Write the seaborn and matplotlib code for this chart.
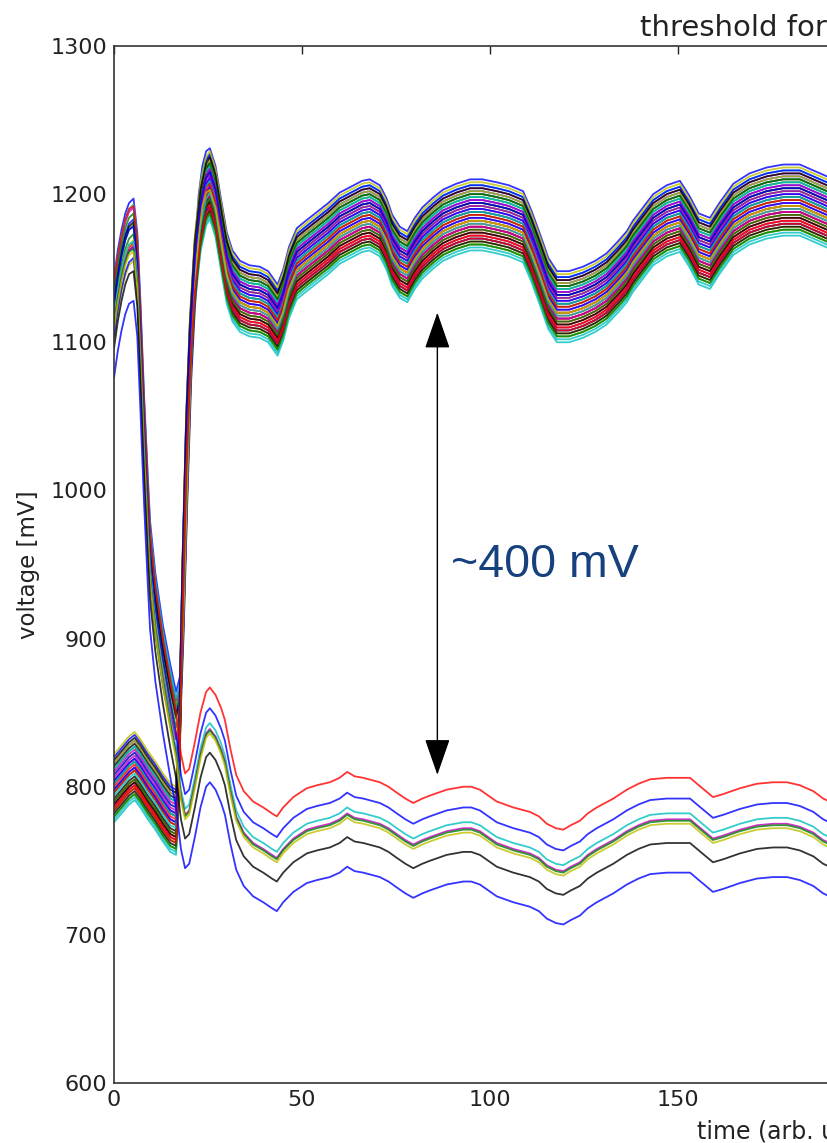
import matplotlib
matplotlib.use("Agg")
import matplotlib.pyplot as plt
import pandas as pd
import seaborn as sns

# ---------------- data ----------------
x_ticks = [0, 50, 100, 150, 200, 250, 300, 350, 400]
y_ticks = [600, 700, 800, 900, 1000, 1100, 1200, 1300]

# early part of the upper traces that start high (time, mV)
early_high_t = [0, 1, 2, 3, 4, 5.2, 6.2, 7, 8, 9, 9.6, 11, 13, 15, 16.5,
                17.5, 18.5, 19.5, 20.5, 21.5, 22.5, 23.5, 24.5]
early_high_v = [1120, 1138, 1152, 1163, 1170, 1173, 1150, 1105, 1040, 985, 955,
                920, 885, 858, 840, 850, 920, 1010, 1090, 1140, 1175, 1195, 1205]

# early part of the upper traces that start low
early_low_t = [0, 2, 4, 5.5, 7, 9, 11, 13, 15, 16.5, 17.3, 18.2, 19.2, 20.2,
               21.5, 23, 24.5]
early_low_v = [800, 806, 812, 815, 810, 802, 795, 787, 780, 778, 820, 930,
               1030, 1095, 1150, 1185, 1203]

# common course of the upper bundle (bundle centre)
common_t = [25.5, 27, 28.5, 30, 31.5, 33.5, 36, 38.8, 41, 43.5, 45, 46.5, 48.6,
            51, 54, 57, 60, 63, 66, 68, 70.7, 72.5, 74, 76, 78, 80, 82, 85,
            87.5, 91, 94.7, 98, 101.8, 105, 108.8, 111, 113.3, 115.5, 117.8,
            121, 124.7, 128, 131, 134, 136.4, 138, 141, 143.4, 147, 150.5, 153,
            155.5, 158.5, 161, 164.7, 169, 173.6, 178, 182.4, 186, 189.6, 192]
common_v = [1207, 1195, 1172, 1150, 1138, 1131, 1128, 1127, 1124, 1115, 1125,
            1140, 1153, 1158, 1164, 1170, 1177, 1181, 1185, 1186, 1182, 1173,
            1162, 1154, 1151, 1160, 1167, 1174, 1179, 1183, 1186, 1186, 1184,
            1182, 1178, 1165, 1149, 1133, 1124, 1124, 1127, 1131, 1136, 1144,
            1151, 1158, 1168, 1176, 1182, 1185, 1175, 1163, 1160, 1170, 1183,
            1190, 1194, 1196, 1196, 1192, 1188, 1185]

# per-trace offsets of the upper bundle (mV) and whether the trace starts high
upper_offsets = [24, 12, -6, -22, 18, 8, 2, 16, 6, -10, 20, -2, -14, 14, 10,
                 -4, -12, -24, 4, -18, -8, 20, 0, -4, 12, -14, 16, 8, -2, -16,
                 -8, -20, 10, -20, -12, 4, 14, -14, 2, -8, 22, -18, -16, -10,
                 0, -6, 6, -4, 18, 8, -20, -16]
upper_starts_high = [1, 0, 1, 0, 1, 0, 0, 0, 1, 0, 1, 0, 0, 0, 1, 0, 0, 0, 0,
                     1, 0, 0, 1, 0, 0, 0, 0, 1, 0, 0, 1, 0, 0, 0, 0, 0, 1, 0,
                     0, 1, 0, 0, 1, 0, 0, 0, 0, 1, 0, 0, 0, 0]

# traces that stay below threshold (uppermost red trace)
lower_t = [0, 1, 2, 3, 4, 5.2, 6.2, 7, 8, 9, 9.6, 11, 13, 15, 16.5, 17.8,
           18.9, 20, 21.5, 23, 24.5, 25.5, 27, 28.5, 29.5, 31, 32.5, 34.5, 37,
           39.7, 42, 43.3, 45, 47.7, 51.3, 54, 57.4, 60, 62, 64, 66.3, 70.7,
           73, 75.2, 77.5, 79.6, 82, 84, 88.5, 92.9, 95, 97.3, 101.8, 106.2,
           110.6, 113, 115.1, 117.5, 119.5, 121.5, 123.9, 126, 128.4, 132.8,
           136.4, 139.5, 142.6, 147, 150, 153.2, 156, 159.3, 162, 166.5, 171,
           175.3, 179, 182.4, 186, 188.6, 192]
lower_v = [1140, 1158, 1172, 1183, 1190, 1192, 1168, 1120, 1055, 1000, 970,
           935, 900, 870, 850, 822, 809, 812, 830, 850, 864, 867, 862, 853,
           845, 825, 808, 797, 790, 786, 782, 780, 786, 793, 799, 801, 803,
           806, 810, 807, 806, 803, 800, 796, 792, 789, 792, 794, 798, 800,
           800, 798, 790, 786, 783, 780, 775, 772, 771, 774, 777, 782, 786,
           792, 798, 802, 805, 806, 806, 806, 800, 793, 795, 799, 802, 803,
           803, 801, 797, 792, 788]
lower_offsets = [0, -14, -24, -28, -29, -31, -44, -64]
lower_colors = ["r", "b", "c", "m", "g", "y", "k", "b"]

# ---------------- build long table ----------------
classic = {"b": (0, 0, 1), "g": (0, 0.5, 0), "r": (1, 0, 0),
           "c": (0, 0.75, 0.75), "m": (0.75, 0, 0.75),
           "y": (0.75, 0.75, 0), "k": (0, 0, 0)}
cycle = "bgrcmyk"

rows = []
palette = {}
order = []
for i, off in enumerate(upper_offsets):
    if upper_starts_high[i]:
        et, ev = early_high_t, early_high_v
    else:
        et, ev = early_low_t, early_low_v
    name = f"up{i}"
    order.append(name)
    palette[name] = classic[cycle[i % 7]]
    for t, v in zip(et + common_t, ev + common_v):
        rows.append((name, t, v + off))
for j, off in enumerate(lower_offsets):
    name = f"low{j}"
    order.append(name)
    palette[name] = classic[lower_colors[j]]
    for t, v in zip(lower_t, lower_v):
        rows.append((name, t, v + off))
df = pd.DataFrame(rows, columns=["trace", "time", "voltage"])

# ---------------- plot ----------------
sns.set_style("white")
plt.rcParams["font.family"] = ["DejaVu Sans"]

fig = plt.figure(figsize=(8.28, 11.43), dpi=100)
W = 1504  # axes width in px (extends past the right edge of the picture)
ax = fig.add_axes([114 / 828, 60 / 1143, W / 828, 1037 / 1143])

sns.lineplot(data=df, x="time", y="voltage", hue="trace", hue_order=order,
             palette=palette, estimator=None, sort=False, legend=False,
             linewidth=1.3, alpha=0.8, ax=ax)

ax.set_xlim(0, 400)
ax.set_ylim(600, 1300)
ax.set_xticks(x_ticks)
ax.set_yticks(y_ticks)
ax.tick_params(direction="in", length=6, width=1, top=True, right=True,
               labelsize=16, colors="#222222", pad=5)
for s in ax.spines.values():
    s.set_color("#333333")
    s.set_linewidth(1.2)

ax.set_ylabel("voltage [mV]", fontsize=16.5, color="#222222")
ax.yaxis.set_label_coords(-74 / W, 0.5)
ax.set_xlabel("time (arb. units)", fontsize=17, color="#222222")
ax.xaxis.label.set_ha("left")
ax.xaxis.label.set_va("baseline")
ax.xaxis.set_label_coords((697 - 114) / W, -(1139 - 1083) / 1037)

ax.text((640 - 114) / W, 1 + 10 / 1037, "threshold for switching",
        transform=ax.transAxes, ha="left", va="baseline", fontsize=21,
        color="#222222")

# double arrow and annotation
ax.annotate("", xy=(86, 808), xytext=(86, 1120),
            arrowprops=dict(arrowstyle="<|-|>,head_length=1.15,head_width=0.4",
                            mutation_scale=20, color="black", lw=1,
                            shrinkA=0, shrinkB=0))
ax.text(89.6, 941.5, "~400 mV", fontsize=33.5, color="#17407e",
        family=["Liberation Sans", "DejaVu Sans"], ha="left", va="baseline")

fig.savefig("out.png", dpi=100)
